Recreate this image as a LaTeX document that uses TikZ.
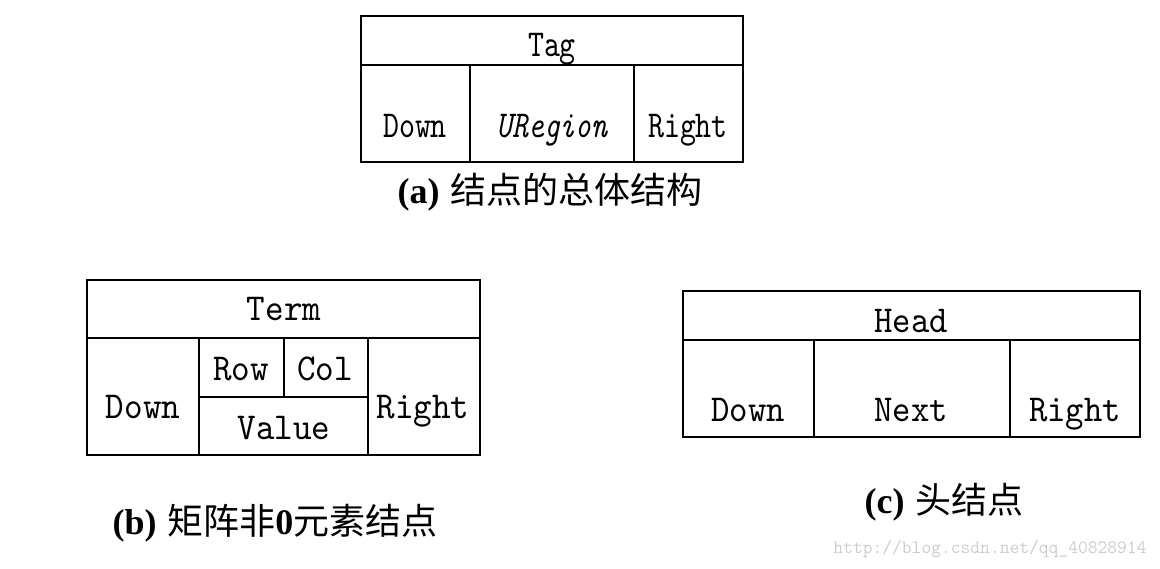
\documentclass[tikz,border=0pt]{standalone}
\usepackage{fontspec}
\newfontfamily\lbl{lmmono10-regular.otf}[ItalicFont=lmmono10-italic.otf]
\newfontfamily\cjk{Noto Sans CJK SC}
\newfontfamily\capser{Liberation Serif}
\newcommand\sxx[2]{\scalebox{#1}[1]{#2}}
\begin{document}
\begin{tikzpicture}[x=1pt,y=-1pt,
  box/.style={line width=1.9pt},
  lab/.style={inner sep=0pt, anchor=base, font=\fontsize{38}{42}\selectfont\lbl},
  captxt/.style={inner sep=0pt, font=\fontsize{36}{40}\selectfont},
  wm/.style={inner sep=0pt, text=black!20, font=\fontsize{19}{22}\selectfont\ttfamily}]
\useasboundingbox (0,0) rectangle (1160,569);
% (a)
\draw[box] (361,16) rectangle (743,162);
\draw[box] (361,65) -- (743,65);
\draw[box] (470,65) -- (470,162);
\draw[box] (634,65) -- (634,162);
\node[lab] (atag) at (552,57) {\sxx{0.8}{Tag}};
\node[lab] (adown) at (415,138) {\sxx{0.8}{Down}};
\node[lab] (aureg) at (552,138) {\sxx{0.8}{\itshape URegion}};
\node[lab] (aright) at (688,138) {\sxx{0.8}{Right}};
\node[captxt] (acap) at (550,192) {{\capser\bfseries (a)} {\cjk 结点的总体结构}};
% (b)
\draw[box] (87,280) rectangle (480,455);
\draw[box] (87,338) -- (480,338);
\draw[box] (199,338) -- (199,455);
\draw[box] (368,338) -- (368,455);
\draw[box] (199,397) -- (368,397);
\draw[box] (284,338) -- (284,397);
\node[lab] (bterm) at (284,321) {\sxx{0.93}{Term}};
\node[lab] (brow) at (241,381) {\sxx{0.93}{Row}};
\node[lab] (bcol) at (325,381) {\sxx{0.93}{Col}};
\node[lab] (bval) at (284,439) {\sxx{0.93}{Value}};
\node[lab] (bdown) at (143,418) {\sxx{0.93}{Down}};
\node[lab] (bright) at (423,418) {\sxx{0.93}{Right}};
\node[captxt] (bcap) at (275,523) {{\capser\bfseries (b)} {\cjk 矩阵非}{\capser\bfseries 0}{\cjk 元素结点}};
% (c)
\draw[box] (683,291) rectangle (1140,437);
\draw[box] (683,340) -- (1140,340);
\draw[box] (814,340) -- (814,437);
\draw[box] (1010,340) -- (1010,437);
\node[lab] (chead) at (911,333) {\sxx{0.92}{Head}};
\node[lab] (cdown) at (748,421) {\sxx{0.92}{Down}};
\node[lab] (cnext) at (911,421) {\sxx{0.92}{Next}};
\node[lab] (cright) at (1075,421) {\sxx{0.92}{Right}};
\node[captxt] (ccap) at (944,502) {{\capser\bfseries (c)} {\cjk 头结点}};
\node[wm] (wmark) at (990,549) {http://blog.csdn.net/qq\_40828914};
\end{tikzpicture}
\end{document}
